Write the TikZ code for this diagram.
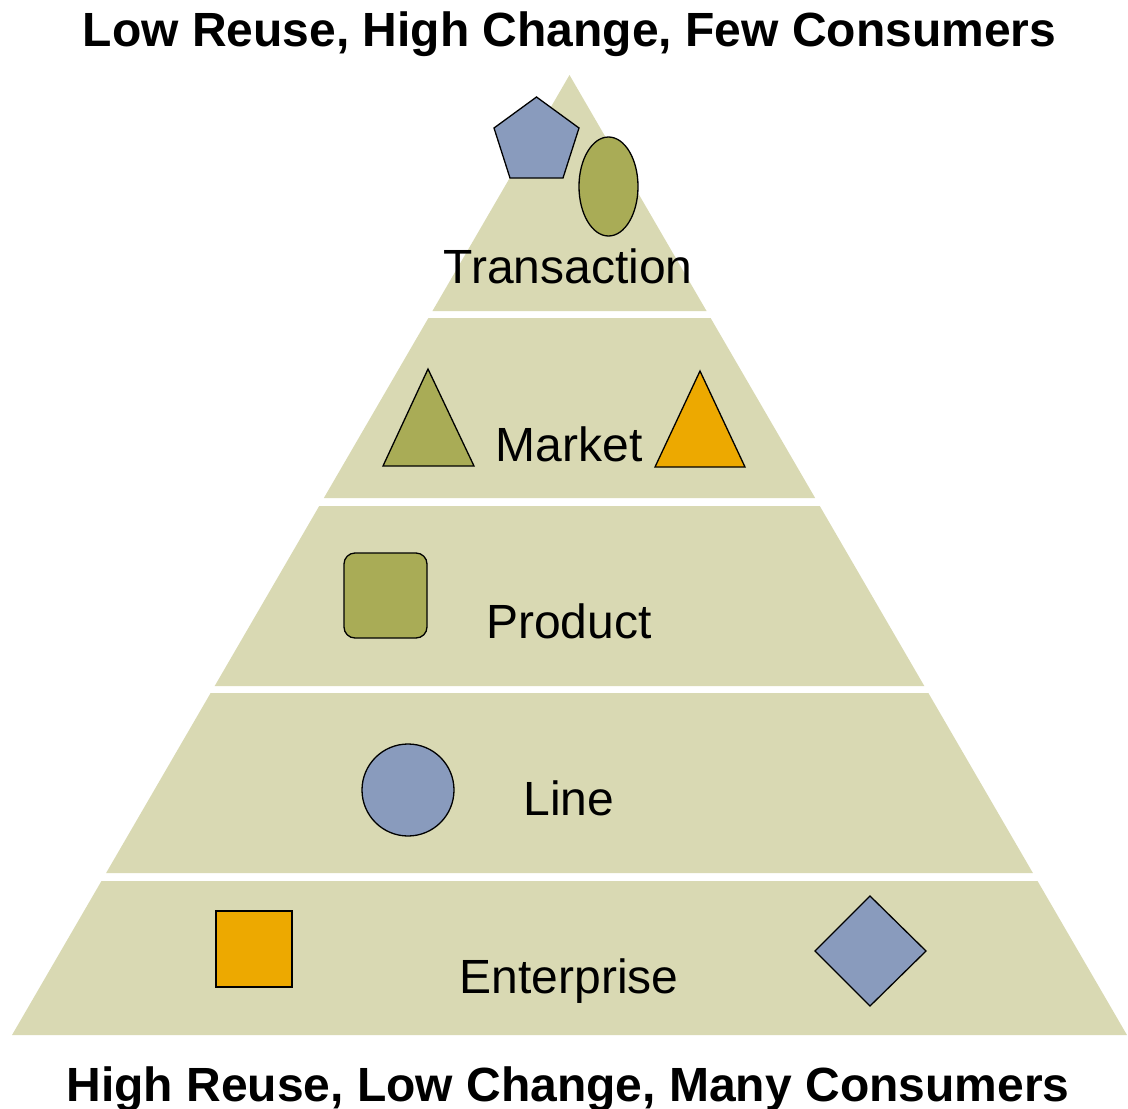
\documentclass[tikz,border=0pt]{standalone}
\usepackage{fontspec}
\setmainfont{Liberation Sans}
\definecolor{bandcol}{RGB}{217,217,179}
\definecolor{olive}{RGB}{169,172,86}
\definecolor{slate}{RGB}{137,155,189}
\definecolor{amber}{RGB}{237,169,0}
\tikzset{band/.style={fill=bandcol},
	shp/.style={draw=black,line width=1.3pt,line join=miter},
	tier/.style={anchor=base,inner sep=0pt,font=\fontsize{48}{58}\selectfont},
	headline/.style={anchor=base,inner sep=0pt,font=\fontsize{48}{58}\selectfont\bfseries}}

\begin{document}
\begin{tikzpicture}[x=1pt,y=-1pt]
	    \useasboundingbox (0,0) rectangle (1128,1109);
	    % tiers of the pyramid
	    \foreach \t/\b in {75/311,318/498,506/686,693/873,881/1035}
	        \fill[band] ({569.5-0.5807*(\t-75)},\t) -- ({569.5+0.5807*(\t-75)},\t)
	            -- ({569.5+0.5807*(\b-75)},\b) -- ({569.5-0.5807*(\b-75)},\b) -- cycle;
	    % shapes
	    \draw[shp,fill=slate] (536.5,97) -- (579,128) -- (563,178) -- (510,178) -- (494,128) -- cycle;
	    \draw[shp,fill=olive] (608.5,186.5) ellipse [x radius=29.5,y radius=49.5];
	    \draw[shp,fill=olive] (428,369) -- (474,466) -- (383,466) -- cycle;
	    \draw[shp,fill=amber] (700,371) -- (745,467) -- (655,467) -- cycle;
	    \draw[shp,fill=olive,rounded corners=11pt] (344,553) rectangle (427,638);
	    \draw[shp,fill=slate] (408,790) circle [radius=46];
	    \draw[shp,fill=amber] (216,911) rectangle (292,987);
	    \draw[shp,fill=slate] (870,896) -- (926,951) -- (870,1006) -- (815,951) -- cycle;
	    % labels
	    \node[tier] (transaction) at (568,283) {Transaction};
	    \node[tier] (market) at (569,461) {Market};
	    \node[tier] (product) at (569,638) {Product};
	    \node[tier] (line) at (569,815) {Line};
	    \node[tier] (enterprise) at (569,993) {Enterprise};
	    \node[headline] (top) at (569.5,46) {Low Reuse, High Change, Few Consumers};
	    \node[headline] (bottom) at (568,1101) {High Reuse, Low Change, Many Consumers};
        \end{tikzpicture}
\end{document}
